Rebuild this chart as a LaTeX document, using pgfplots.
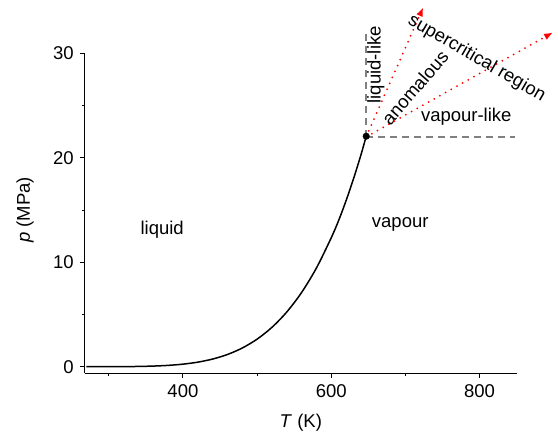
\documentclass[border=0pt]{standalone}
\usepackage{fontspec}
\setmainfont{Liberation Sans}
\usepackage{pgfplots}
\pgfplotsset{compat=1.18}
\usetikzlibrary{arrows.meta,calc}
\begin{document}
\fontsize{18.5}{22}\selectfont
\begin{tikzpicture}
\begin{axis}[name=ax, at={(0,0)}, anchor=south west,
 scale only axis, width=431.7pt, height=319.7pt,
 xmin=268, xmax=850, ymin=-0.6, ymax=30,
 axis lines*=left, axis line style={line width=1pt},
 tick align=outside, xtick={400,600,800}, minor xtick={300,500,700},
 ytick={0,10,20,30}, minor ytick={5,15,25},
 major tick length=5pt, minor tick length=3pt,
 tick style={line width=1pt, black},
 /pgf/number format/assume math mode=true,
 ticklabel style={font=\fontsize{18.5}{22}\selectfont},
 label style={font=\fontsize{18.5}{22}\selectfont},
 xlabel={\textit{T} (K)}, ylabel={\textit{p} (MPa)},
 xlabel style={at={(axis description cs:0.5,-0.156)}, anchor=center},
 ylabel style={at={(axis description cs:-0.139,0.51)}, anchor=center},
 clip=false,
]
\addplot[black, line width=1.5pt, smooth] coordinates {
(270,0.0005) (273.16,0.000612) (300,0.003537) (320,0.01055) (340,0.02719)
(360,0.06219) (380,0.1290) (400,0.2458) (420,0.4373) (440,0.7337)
(460,1.1700) (480,1.7905) (500,2.6392) (520,3.7690) (540,5.2369)
(560,7.1062) (580,9.4480) (600,12.345) (610,14.01) (620,15.901)
(630,17.99) (640,20.27) (647.1,22.064)};
\addplot[gray, line width=1.5pt, dash pattern=on 7pt off 5pt] coordinates {(647,22) (647,32)};
\addplot[gray, line width=1.5pt, dash pattern=on 7pt off 5pt] coordinates {(647,22) (848,22)};
\addplot[red, line width=2pt, line cap=round, dash pattern=on 0pt off 6.5pt, -{Latex[length=9pt,width=7pt]}] coordinates {(647,22) (724,34.4)};
\addplot[red, line width=2pt, line cap=round, dash pattern=on 0pt off 6.5pt, -{Latex[length=9pt,width=7pt]}] coordinates {(647,22) (899,32.0)};
\addplot[only marks, mark=*, mark size=3.3pt, black] coordinates {(647.1,22.064)};
\node at (axis cs:372,13.1) {liquid};
\node at (axis cs:693,13.6) {vapour};
\node[rotate=90] at (axis cs:660,28.9) {liquid-like};
\node[rotate=49] at (axis cs:713,26.7) {anomalous};
\node[rotate=-30] at (axis cs:796,29.5) {supercritical region};
\node at (axis cs:782,23.9) {vapour-like};
\end{axis}
\pgfresetboundingbox
\path ($(ax.south west)+(-85pt,-64pt)$) rectangle ($(ax.south west)+(473pt,373pt)$);
\end{tikzpicture}
\end{document}
